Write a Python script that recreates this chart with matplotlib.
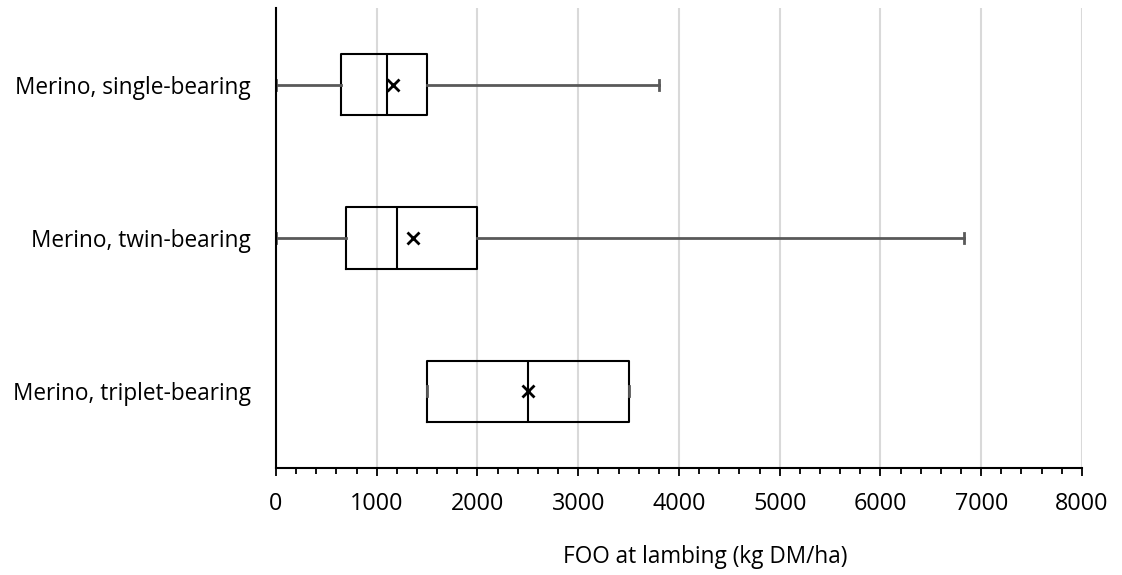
import matplotlib.pyplot as plt
from matplotlib.ticker import MultipleLocator

# box statistics (kg DM/ha)
labels = ['Merino, single-bearing', 'Merino, twin-bearing', 'Merino, triplet-bearing']
whislo = [0, 0, 1500]
q1 = [650, 690, 1500]
med = [1100, 1200, 2500]
q3 = [1500, 2000, 3500]
whishi = [3800, 6830, 3500]
mean = [1160, 1360, 2500]

stats = []
for i in range(len(labels)):
    stats.append(dict(label=labels[i], whislo=whislo[i], q1=q1[i], med=med[i],
                      q3=q3[i], whishi=whishi[i], mean=mean[i], fliers=[]))

plt.rcParams['font.family'] = ['Open Sans', 'DejaVu Sans']

fig = plt.figure(figsize=(11.22, 5.75), dpi=100)
ax = fig.add_axes([0.246, 0.186, 0.7183, 0.8])

positions = [3, 2, 1]
ax.bxp(stats, positions=positions, orientation='horizontal', widths=0.4,
       showmeans=True, capwidths=0.066,
       boxprops=dict(color='black', linewidth=1.5),
       medianprops=dict(color='black', linewidth=1.5),
       whiskerprops=dict(color='#595959', linewidth=2),
       capprops=dict(color='#595959', linewidth=2),
       meanprops=dict(marker='x', markeredgecolor='black', markersize=9,
                      markeredgewidth=2))

ax.set_xlim(0, 8000)
ax.set_ylim(0.5, 3.5)
ax.xaxis.set_major_locator(MultipleLocator(1000))
ax.xaxis.set_minor_locator(MultipleLocator(200))
ax.grid(axis='x', color='#d9d9d9', linewidth=1.5)
ax.set_axisbelow(True)
ax.tick_params(axis='x', which='major', length=6, width=1.3, labelsize=16.8,
               pad=11, color='black')
ax.tick_params(axis='x', which='minor', length=4.5, width=1.3, color='black')
ax.tick_params(axis='y', length=0, labelsize=16.3, pad=18)
ax.set_yticks(positions)
ax.set_yticklabels(labels)

for side in ['top', 'right']:
    ax.spines[side].set_visible(False)
for side in ['left', 'bottom']:
    ax.spines[side].set_linewidth(1.5)
    ax.spines[side].set_zorder(3)

ax.set_xlabel('FOO at lambing (kg DM/ha)', fontsize=16.3, labelpad=21)
ax.xaxis.label.set_x(0.533)

plt.savefig('out.png', dpi=100)
